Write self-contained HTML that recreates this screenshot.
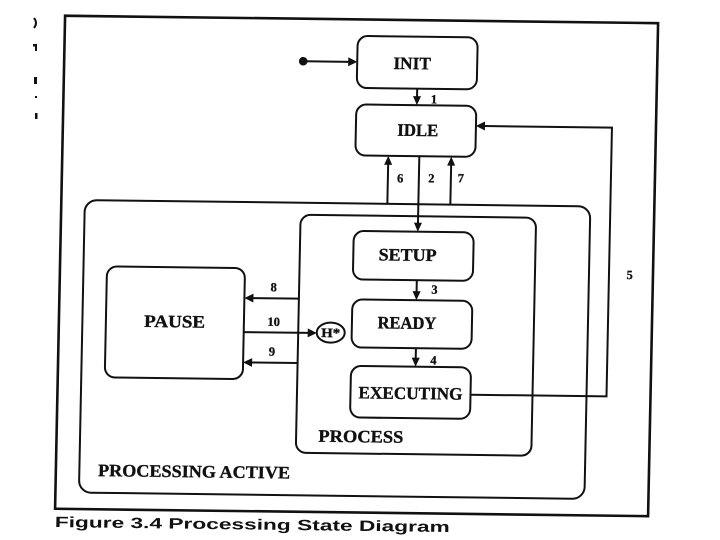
<!DOCTYPE html>
<html>
<head>
<meta charset="utf-8">
<style>
  html, body { margin:0; padding:0; background:#fff; }
  svg { display:block; }
  .lbl { font-family:"Liberation Serif", serif; font-weight:bold; fill:#111; stroke:#111; stroke-width:0.35; }
  .num { font-family:"Liberation Serif", serif; font-weight:bold; fill:#111; stroke:#111; stroke-width:0.3; font-size:12.5px; text-anchor:middle; }
  .cap { font-family:"Liberation Sans", sans-serif; font-weight:bold; fill:#111; }
</style>
</head>
<body>
<svg width="720" height="540" viewBox="0 0 720 540" xmlns="http://www.w3.org/2000/svg">
  <rect width="720" height="540" fill="#fff"/>

  <!-- stray marks at left margin -->
  <g fill="#111">
    <path d="M34 18 Q38 23 34 28" stroke="#111" stroke-width="2" fill="none"/>
    <rect x="33" y="44" width="4" height="2.5"/>
    <rect x="35" y="44" width="2" height="7"/>
    <rect x="34" y="77" width="3" height="7"/>
    <rect x="35" y="96" width="2" height="2"/>
    <rect x="35" y="113" width="2.5" height="6"/>
  </g>

  <g transform="translate(360 270) matrix(1 0.0125 -0.0203 1 0 0) translate(-360 -270)">
    <g fill="none" stroke="#111" stroke-width="2">
      <!-- outer frame -->
      <rect x="60" y="19.5" width="593" height="493" stroke-width="2.6"/>
      <!-- PROCESSING ACTIVE -->
      <rect x="83.5" y="203.5" width="505.5" height="292.5" rx="12"/>
      <!-- PROCESS -->
      <rect x="299.5" y="215.5" width="235.5" height="238" rx="10"/>
      <!-- states -->
      <rect x="353" y="36" width="120" height="52" rx="10"/>
      <rect x="353" y="104.5" width="120" height="51" rx="10"/>
      <rect x="353" y="231" width="120" height="48.5" rx="10"/>
      <rect x="353" y="299.5" width="120" height="48" rx="10"/>
      <rect x="353" y="366" width="120" height="51.5" rx="10"/>
      <rect x="107" y="269.5" width="138" height="111" rx="10"/>
      <!-- history -->
      <ellipse cx="332" cy="333" rx="14" ry="10"/>

      <!-- connectors -->
      <line x1="300" y1="62" x2="346" y2="62"/>
      <line x1="413.5" y1="88" x2="413.5" y2="97"/>
      <line x1="386" y1="203.5" x2="386" y2="163"/>
      <line x1="449" y1="203.5" x2="449" y2="163"/>
      <line x1="417" y1="155.5" x2="417" y2="223"/>
      <line x1="417" y1="279.5" x2="417" y2="291"/>
      <line x1="417.5" y1="347.5" x2="417.5" y2="358"/>
      <polyline points="473,393.3 609,393.3 609,124.5 481,124.5"/>
      <line x1="299.5" y1="299.4" x2="253" y2="299.4"/>
      <line x1="245" y1="333.5" x2="310" y2="333.5"/>
      <line x1="299.5" y1="363.8" x2="253" y2="363.8"/>
    </g>

    <!-- arrowheads & initial dot -->
    <g fill="#111">
      <circle cx="299" cy="62" r="4.3"/>
      <polygon points="344,57.5 353,62 344,66.5"/>
      <polygon points="409.5,95.5 417.5,95.5 413.5,104.5"/>
      <polygon points="382,164.5 390,164.5 386,155.5"/>
      <polygon points="445,164.5 453,164.5 449,155.5"/>
      <polygon points="413,222 421,222 417,231"/>
      <polygon points="413,290.5 421,290.5 417,299.5"/>
      <polygon points="413.5,357 421.5,357 417.5,366"/>
      <polygon points="482,120 473,124.5 482,129"/>
      <polygon points="254,295 245,299.4 254,303.8"/>
      <polygon points="309,329 318,333.5 309,338"/>
      <polygon points="254,359.4 245,363.8 254,368.2"/>
    </g>

    <!-- state labels -->
    <g class="lbl" font-size="17.5" text-anchor="middle">
      <text x="408" y="68.6" textLength="37.5" lengthAdjust="spacingAndGlyphs">INIT</text>
      <text x="415" y="135.3" textLength="41" lengthAdjust="spacingAndGlyphs">IDLE</text>
      <text x="407.3" y="260.1" textLength="58" lengthAdjust="spacingAndGlyphs">SETUP</text>
      <text x="408" y="328.1" textLength="58.7" lengthAdjust="spacingAndGlyphs">READY</text>
      <text x="413" y="398.4" textLength="104" lengthAdjust="spacingAndGlyphs">EXECUTING</text>
      <text x="175.7" y="329.6" textLength="61" lengthAdjust="spacingAndGlyphs">PAUSE</text>
    </g>
    <text class="lbl" font-size="17.5" x="321.8" y="442.2" textLength="85" lengthAdjust="spacingAndGlyphs">PROCESS</text>
    <text class="lbl" font-size="17.5" x="102.2" y="479.3" textLength="192" lengthAdjust="spacingAndGlyphs">PROCESSING ACTIVE</text>
    <text class="lbl" font-size="13" x="332" y="337.5" text-anchor="middle" textLength="19" lengthAdjust="spacingAndGlyphs">H*</text>

    <!-- transition numbers -->
    <text class="num" x="430.5" y="102.6">1</text>
    <text class="num" x="398.3" y="181.9">6</text>
    <text class="num" x="429.5" y="181.5">2</text>
    <text class="num" x="459" y="181.1">7</text>
    <text class="num" x="434.9" y="292.7">3</text>
    <text class="num" x="435.3" y="363.5">4</text>
    <text class="num" x="629.8" y="275.7">5</text>
    <text class="num" x="274.1" y="292.4">8</text>
    <text class="num" x="274.8" y="326.9">10</text>
    <text class="num" x="273.6" y="356.7">9</text>

    <!-- caption -->
    <text class="cap" font-size="15" x="60" y="530.8" textLength="395" lengthAdjust="spacingAndGlyphs">Figure 3.4  Processing State Diagram</text>
  </g>
</svg>
</body>
</html>
